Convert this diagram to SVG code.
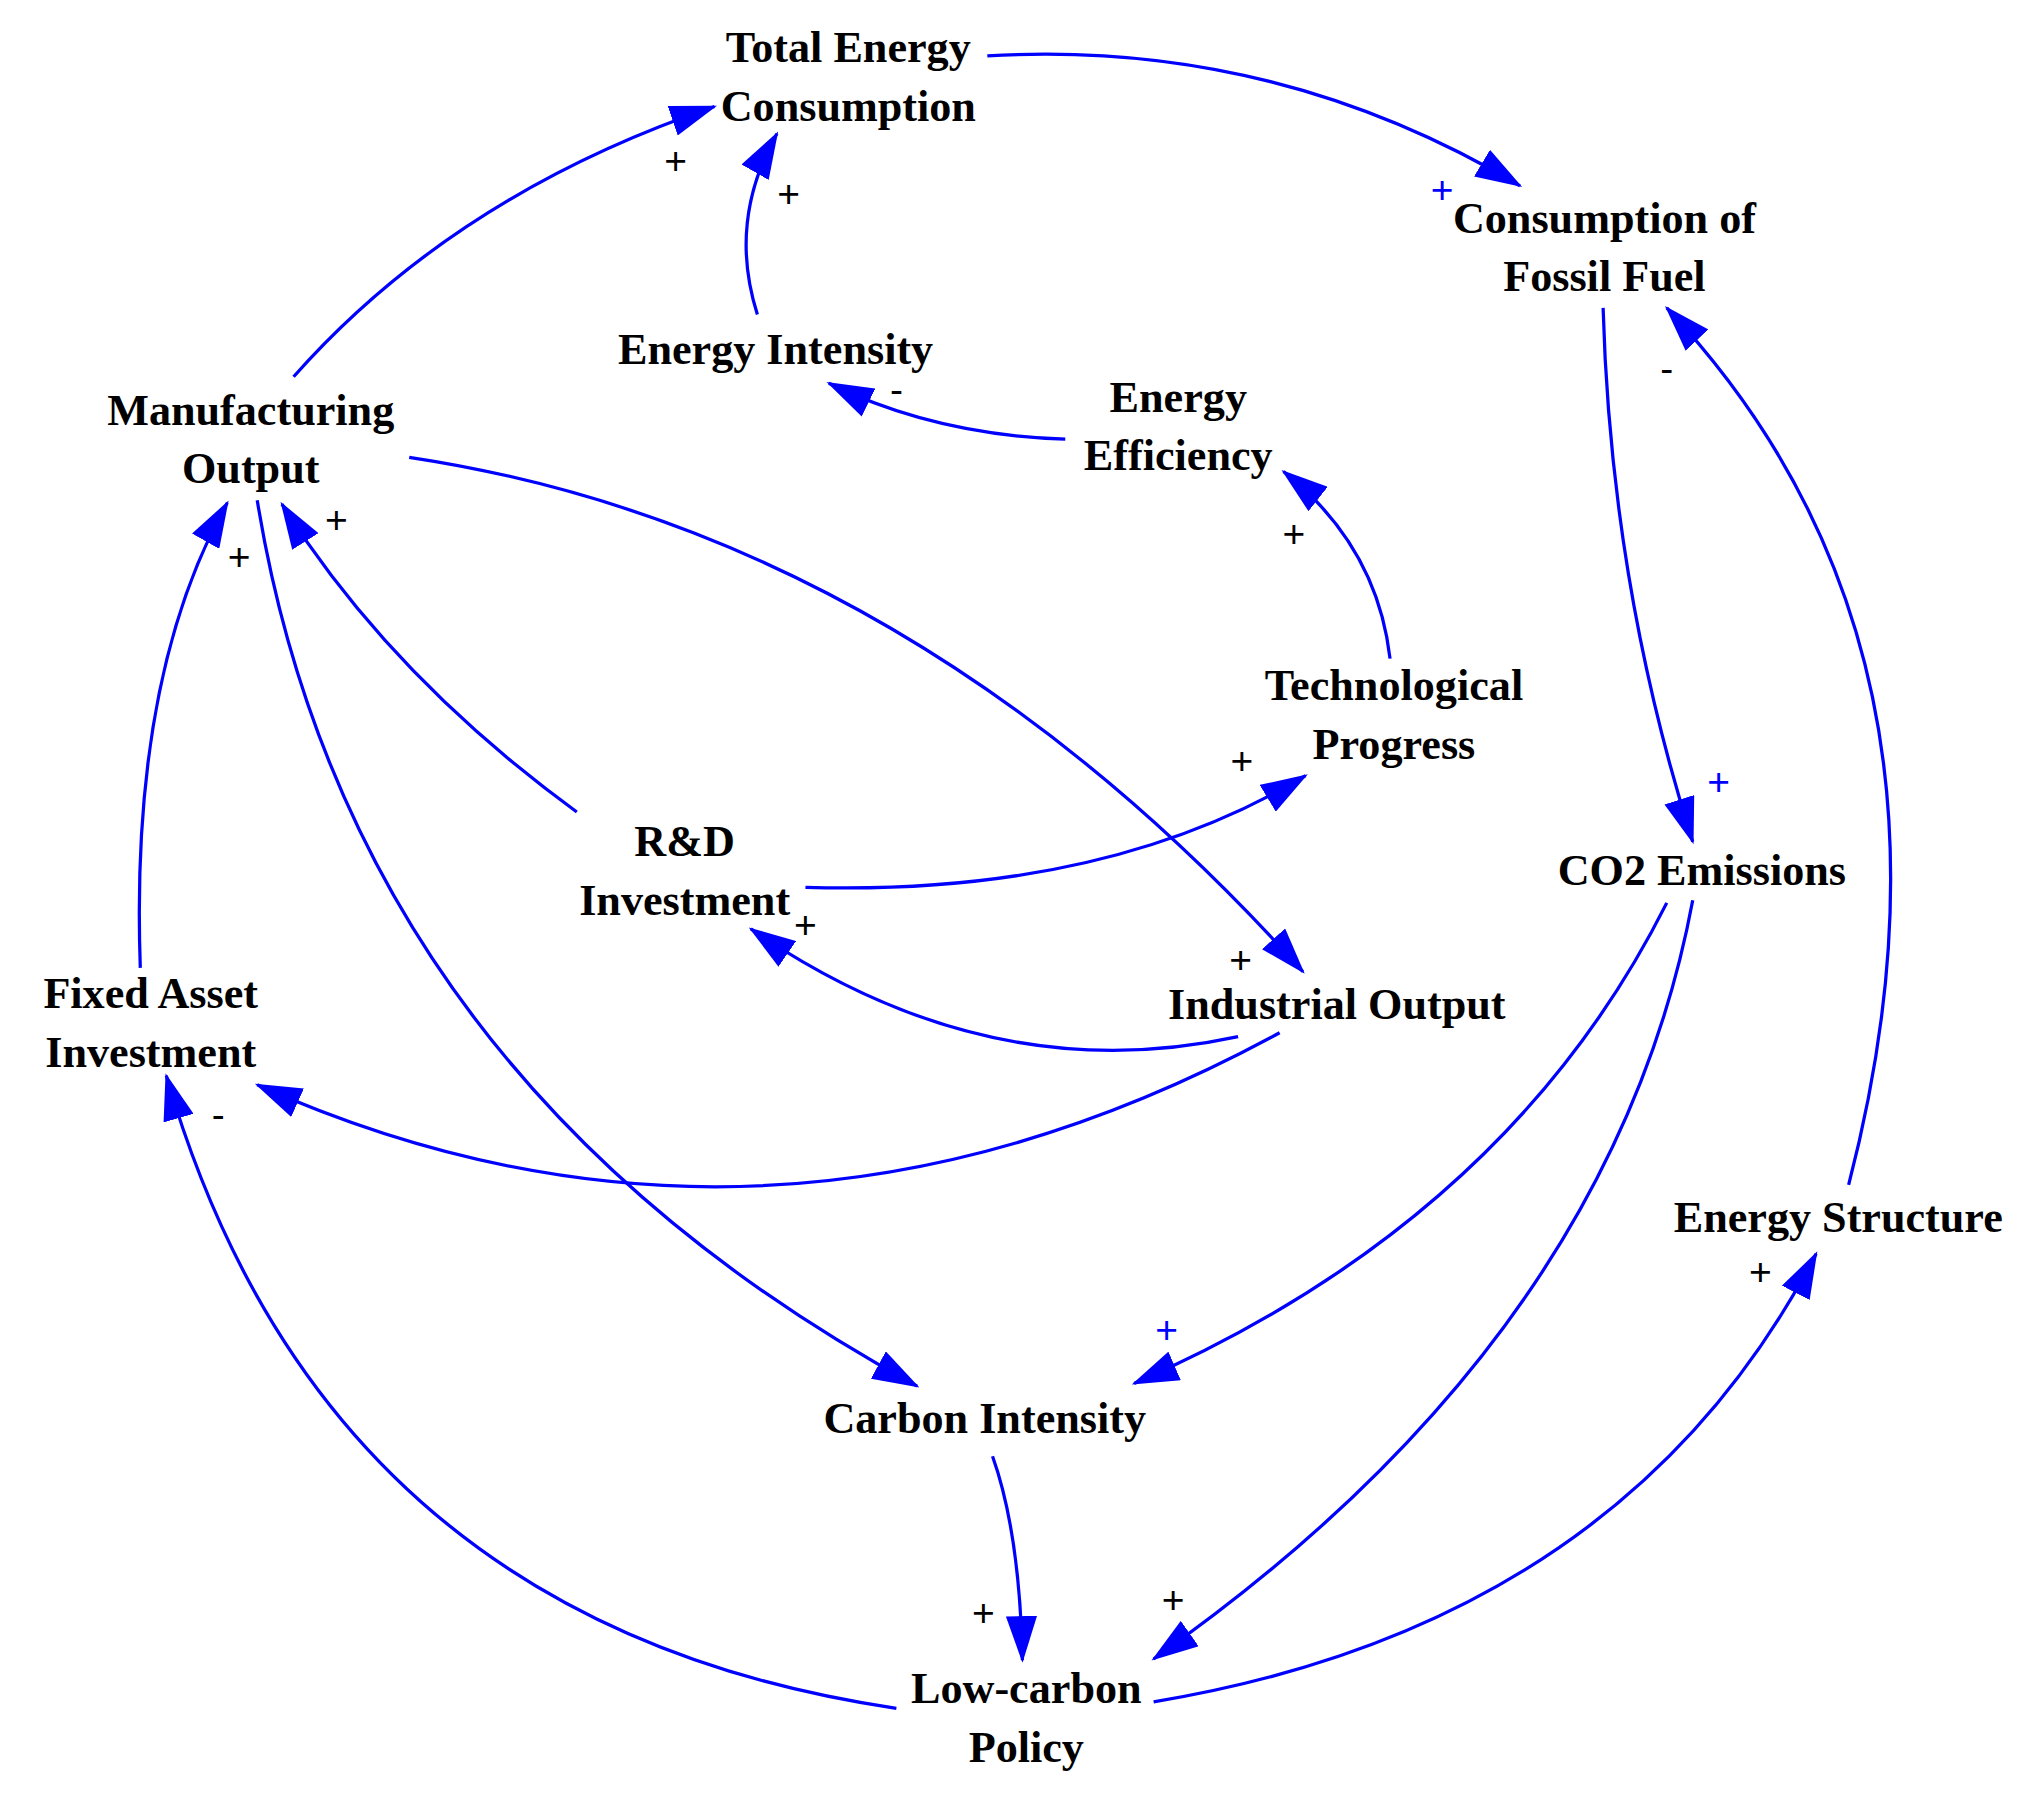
<svg xmlns="http://www.w3.org/2000/svg" width="2037" height="1796" viewBox="0 0 2037 1796">
<defs>
<marker id="ah" markerUnits="userSpaceOnUse" markerWidth="36" markerHeight="24" refX="34" refY="12" orient="auto"><path d="M0,0 L36,12 L0,24 z" fill="#0000ff"/></marker>
<style>
.n{font-family:"Liberation Serif","Times New Roman",serif;font-weight:bold;font-size:34px;fill:#000;text-anchor:middle}
.e{fill:none;stroke:#0000ff;stroke-width:2.5;marker-end:url(#ah)}
.l{font-family:"Liberation Sans",Arial,sans-serif;font-size:30px;fill:#000;text-anchor:middle}
.b{fill:#0000ff}
</style>
</defs>
<rect width="2037" height="1796" fill="#fff"/>
<g transform="scale(1.29911)">
<g id="connectors">
<path class="e" d="M226,290 Q350,150 550,82"/>
<path class="e" d="M583,242 Q560,170 598,103"/>
<path class="e" d="M760,43 Q980,30 1170,143"/>
<path class="e" d="M820,338 Q720,335 638,295"/>
<path class="e" d="M1070,507 Q1060,420 988,363"/>
<path class="e" d="M1234,237 Q1240,450 1303,648"/>
<path class="e" d="M1423,912 Q1530,500 1283,237"/>
<path class="e" d="M315,352 Q700,410 1003,748"/>
<path class="e" d="M198,385 Q270,830 706,1067"/>
<path class="e" d="M444,625 Q300,520 217,388"/>
<path class="e" d="M108,745 Q100,520 175,387"/>
<path class="e" d="M620,683 Q850,690 1005,597"/>
<path class="e" d="M953,798 Q760,840 578,715"/>
<path class="e" d="M985,795 Q590,1010 198,835"/>
<path class="e" d="M1283,695 Q1160,940 873,1065"/>
<path class="e" d="M1303,693 Q1240,1030 888,1277"/>
<path class="e" d="M764,1121 Q785,1180 787,1278"/>
<path class="e" d="M690,1315 Q250,1250 128,828"/>
<path class="e" d="M888,1310 Q1250,1250 1398,965"/>
</g>
<g id="labels">
<text class="l" x="520" y="134">+</text>
<text class="l" x="607" y="159">+</text>
<text class="l b" x="1110" y="156">+</text>
<text class="l" x="690" y="310">-</text>
<text class="l" x="996" y="421">+</text>
<text class="l b" x="1323" y="612">+</text>
<text class="l" x="1283" y="294">-</text>
<text class="l" x="955" y="749">+</text>
<text class="l" x="259" y="410">+</text>
<text class="l" x="184" y="439">+</text>
<text class="l" x="956" y="596">+</text>
<text class="l" x="620" y="722">+</text>
<text class="l" x="168" y="868">-</text>
<text class="l b" x="898" y="1034">+</text>
<text class="l" x="903" y="1242">+</text>
<text class="l" x="757" y="1252">+</text>
<text class="l" x="1355" y="989">+</text>
</g>
<g id="n-tec"><text class="n" x="653" y="48">Total Energy</text><text class="n" x="653" y="93">Consumption</text></g>
<g id="n-cff"><text class="n" x="1235" y="179">Consumption of</text><text class="n" x="1235" y="224">Fossil Fuel</text></g>
<g id="n-ei"><text class="n" x="597" y="280">Energy Intensity</text></g>
<g id="n-mo"><text class="n" x="193" y="327">Manufacturing</text><text class="n" x="193" y="372">Output</text></g>
<g id="n-ee"><text class="n" x="907" y="317">Energy</text><text class="n" x="907" y="362">Efficiency</text></g>
<g id="n-tp"><text class="n" x="1073" y="539">Technological</text><text class="n" x="1073" y="584">Progress</text></g>
<g id="n-rd"><text class="n" x="527" y="659">R&amp;D</text><text class="n" x="527" y="704">Investment</text></g>
<g id="n-co2"><text class="n" x="1310" y="681">CO2 Emissions</text></g>
<g id="n-io"><text class="n" x="1029" y="784">Industrial Output</text></g>
<g id="n-fai"><text class="n" x="116" y="776">Fixed Asset</text><text class="n" x="116" y="821">Investment</text></g>
<g id="n-es"><text class="n" x="1415" y="948">Energy Structure</text></g>
<g id="n-ci"><text class="n" x="758" y="1103">Carbon Intensity</text></g>
<g id="n-lcp"><text class="n" x="790" y="1311">Low-carbon</text><text class="n" x="790" y="1356">Policy</text></g>
</g>
</svg>
